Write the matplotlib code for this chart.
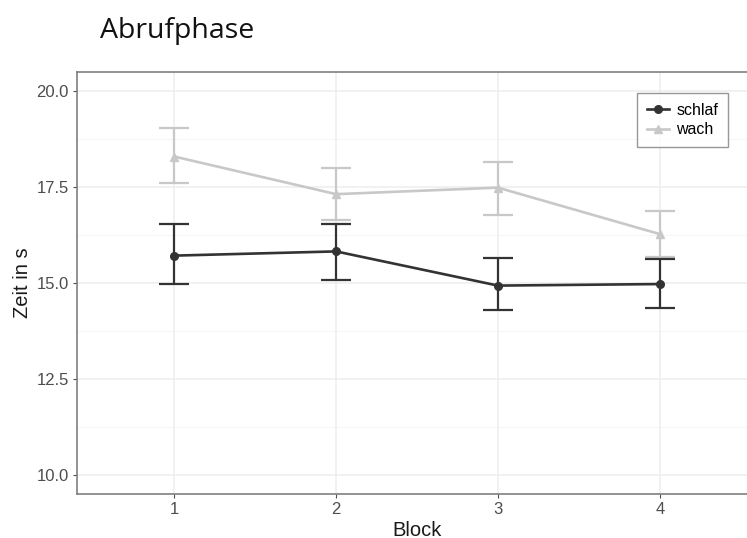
import matplotlib.pyplot as plt
from matplotlib.lines import Line2D
import numpy as np

blocks = [1, 2, 3, 4]
block_labels = ['1', '2', '3', '4']
schlaf_mean = [15.71, 15.82, 14.93, 14.97]
schlaf_upper = [16.53, 16.54, 15.64, 15.63]
schlaf_lower = [14.97, 15.07, 14.29, 14.34]
wach_mean = [18.29, 17.31, 17.48, 16.27]
wach_upper = [19.03, 17.99, 18.14, 16.88]
wach_lower = [17.60, 16.64, 16.77, 15.68]
y_ticks = [10.0, 12.5, 15.0, 17.5, 20.0]

plt.rcParams['font.family'] = ['Liberation Sans', 'DejaVu Sans']

fig = plt.figure(figsize=(7.47, 5.38), dpi=100)
ax = fig.add_axes([77/747, 44/538, 680/747, 422/538])

# grid
for y in np.arange(11.25, 20.5, 2.5):
    ax.axhline(y, color='#F4F4F4', lw=0.6, zorder=0)
for y in y_ticks:
    ax.axhline(y, color='#EEEEEE', lw=1.1, zorder=0)
for x in blocks:
    ax.axvline(x, color='#EEEEEE', lw=1.1, zorder=0)

def draw(mean, lo, hi, color, marker, ms):
    m = np.array(mean)
    err = [m - np.array(lo), np.array(hi) - m]
    ax.errorbar(blocks, m, yerr=err, color=color, lw=1.9, elinewidth=1.6,
                capsize=11, capthick=1.6, marker=marker, ms=ms, zorder=3)

draw(wach_mean, wach_lower, wach_upper, '#C8C8C8', '^', 5.5)
draw(schlaf_mean, schlaf_lower, schlaf_upper, '#333333', 'o', 5.5)

ax.set_xlim(0.4, 4.6)
ax.set_ylim(9.505, 20.49)
ax.set_xticks(blocks)
ax.set_xticklabels(block_labels)
ax.set_yticks(y_ticks)
ax.set_yticklabels([f'{v:.1f}' for v in y_ticks])
ax.tick_params(colors='#4D4D4D', labelsize=12, length=3, width=0.8, pad=3)
for s in ['left', 'bottom', 'top']:
    ax.spines[s].set_color('#7F7F7F')
    ax.spines[s].set_linewidth(1.2)
ax.spines['right'].set_visible(False)

ax.set_xlabel('Block', fontsize=14.5, color='#1A1A1A')
ax.xaxis.set_label_coords(340/680, -(530 - 494)/422)
ax.xaxis.label.set_va('center')
ax.set_ylabel('Zeit in s', fontsize=14.5, color='#1A1A1A')
ax.yaxis.set_label_coords(-(77 - 23)/680, (494 - 283)/422)
ax.yaxis.label.set_va('center')

handles = [Line2D([], [], color='#333333', lw=1.9, marker='o', ms=5.5),
           Line2D([], [], color='#C8C8C8', lw=1.9, marker='^', ms=5.5)]
leg = ax.legend(handles, ['schlaf', 'wach'], loc='upper left',
                bbox_to_anchor=(560/680, 1 - 21/422), fontsize=11.5,
                frameon=True, fancybox=False, edgecolor='#7F7F7F',
                handlelength=1.4, handletextpad=0.45, borderpad=0.6,
                borderaxespad=0, labelspacing=0.3)
leg.get_frame().set_linewidth(1.0)

fig.text(100/747, 1 - 31/538, 'Abrufphase', fontsize=20.5, family=['Open Sans', 'DejaVu Sans'],
         va='center', ha='left', color='#111111')

fig.savefig('out.png', dpi=100)
